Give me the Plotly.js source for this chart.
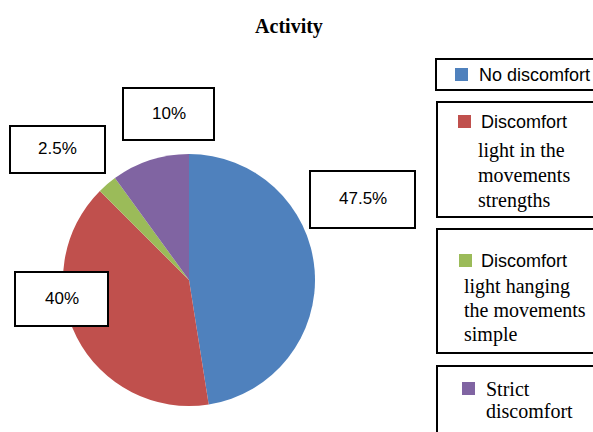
<!DOCTYPE html>
<html>
<head>
<meta charset="utf-8">
<script src="https://cdn.plot.ly/plotly-3.0.1.min.js"></script>
<style>html,body{margin:0;padding:0;background:#fff}#chart{width:593px;height:432px}</style>
</head>
<body>
<div id="chart"></div>
<script>
// Data
const categories = ["No discomfort", "Discomfort light in the movements strengths", "Discomfort light hanging the movements simple", "Strict discomfort"];
const values = [47.5, 40, 2.5, 10];
const percentLabels = ["47.5%", "40%", "2.5%", "10%"];
const colors = ["#4F81BD", "#C0504D", "#9BBB59", "#8064A2"];

const W = 593, H = 432;
const px = x => x / W;
const py = y => 1 - y / H;

const cx = 189, cy = 280, r = 126;

const SANS = "Liberation Sans, Arial, sans-serif";
const SERIF = "Liberation Serif, Times New Roman, serif";

const shapes = [];
const annotations = [];

function box(x0, y0, x1, y1) {
  shapes.push({type: "rect", xref: "paper", yref: "paper",
    x0: px(x0), x1: px(x1), y0: py(y1), y1: py(y0),
    line: {color: "#000", width: 2}, fillcolor: "#fff"});
}
function txt(text, x, y, font, size, anchor) {
  annotations.push({xref: "paper", yref: "paper", x: px(x), y: py(y), text: text,
    showarrow: false, xanchor: anchor || "left", yanchor: "middle",
    font: {family: font, size: size, color: "#000"}});
}
function swatch(x, y, color) {
  shapes.push({type: "rect", xref: "paper", yref: "paper",
    x0: px(x), x1: px(x + 13), y0: py(y + 13), y1: py(y),
    line: {width: 0}, fillcolor: color});
}

// data label boxes
const labelBoxes = [
  [310, 171, 415, 228],
  [15, 272, 108, 326],
  [10, 126, 105, 173],
  [123, 88, 214, 140]
];
labelBoxes.forEach((b, i) => {
  box(b[0], b[1], b[2], b[3]);
  txt(percentLabels[i], (b[0] + b[2]) / 2, (b[1] + b[3]) / 2 - 1, SANS, 17, "center");
});

// legend boxes
box(436, 59, 600, 90);
box(437, 102, 600, 217);
box(437, 229, 600, 353);
box(437, 366, 600, 445);

swatch(455, 68, colors[0]);
txt(categories[0], 477, 75, SANS, 18);

swatch(458, 115, colors[1]);
txt("Discomfort", 479, 122, SANS, 18);
txt("light in the", 476, 150, SERIF, 20);
txt("movements", 476, 175, SERIF, 20);
txt("strengths", 476, 200, SERIF, 20);

swatch(459, 254, colors[2]);
txt("Discomfort", 479, 261, SANS, 18);
txt("light hanging", 462, 286, SERIF, 20);
txt("the movements", 462, 310, SERIF, 20);
txt("simple", 462, 334, SERIF, 20);

swatch(462, 382, colors[3]);
txt("Strict", 484, 389, SERIF, 20);
txt("discomfort", 484, 411, SERIF, 20);

const trace = {
  type: "pie",
  labels: categories,
  values: values,
  sort: false,
  direction: "clockwise",
  rotation: 0,
  textinfo: "none",
  hoverinfo: "label+percent",
  marker: {colors: colors, line: {width: 0}},
  showlegend: false,
  domain: {x: [px(cx - r), px(cx + r)], y: [py(cy + r), py(cy - r)]}
};

const layout = {
  width: W, height: H,
  margin: {l: 0, r: 0, t: 0, b: 0},
  paper_bgcolor: "#fff",
  title: {text: "<b>Activity</b>", font: {family: SERIF, size: 20, color: "#000"},
    x: px(289), xanchor: "center", y: py(26), yanchor: "middle", xref: "paper", yref: "paper"},
  showlegend: false,
  shapes: shapes,
  annotations: annotations
};

Plotly.newPlot("chart", [trace], layout, {displayModeBar: false, staticPlot: true});
</script>
</body>
</html>
